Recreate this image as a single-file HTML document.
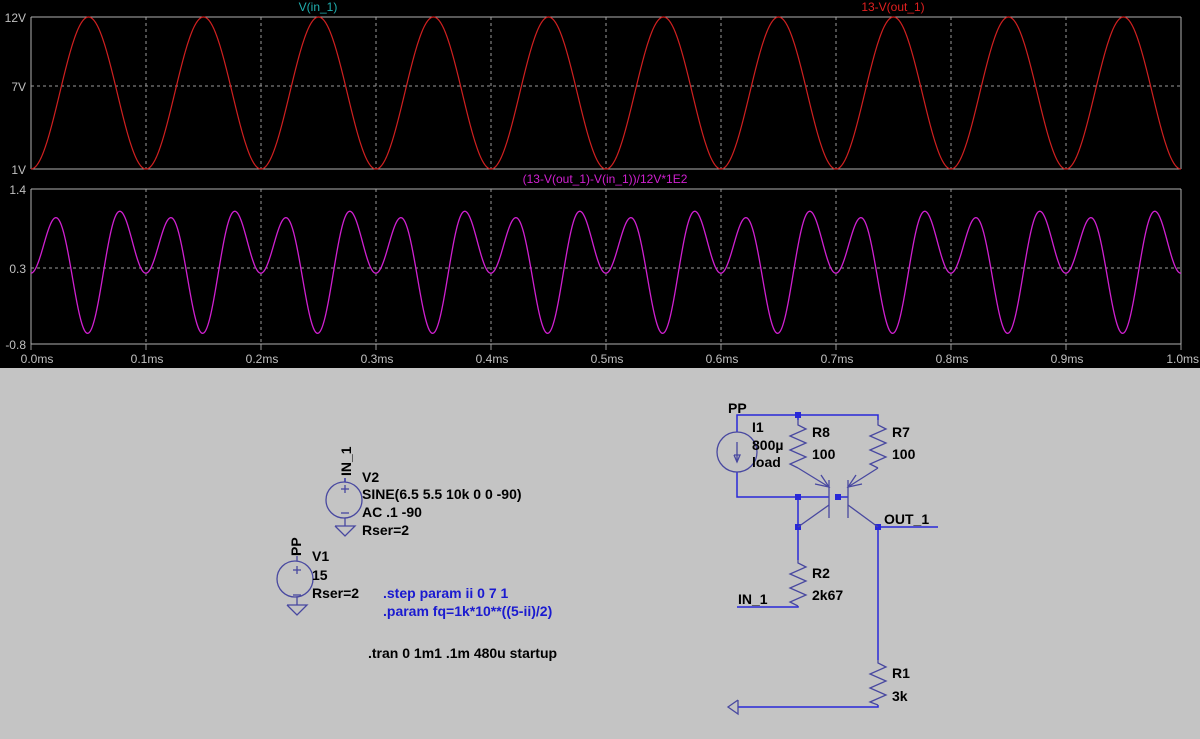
<!DOCTYPE html>
<html><head><meta charset="utf-8"><style>
html,body{margin:0;padding:0;width:1200px;height:739px;overflow:hidden;background:#c4c4c4}
svg{display:block}
.ax{font-family:"Liberation Sans",sans-serif;font-size:12px;fill:#c0c0c0}
.s{font-family:"Liberation Sans",sans-serif;font-size:14px;font-weight:bold;fill:#000}
.b{fill:#1a1ad0}
</style></head><body>
<svg id="sv" width="1200" height="739" viewBox="0 0 1200 739">
<rect x="0" y="0" width="1200" height="368" fill="#000"/>
<g id="grid" stroke="#9a9a9a" stroke-width="1" fill="none"></g>
<line x1="31" y1="17" x2="1181" y2="17" stroke="#b0b0b0"/>
<line x1="31" y1="169" x2="1181" y2="169" stroke="#b0b0b0"/>
<line x1="31" y1="189" x2="1181" y2="189" stroke="#b0b0b0"/>
<line x1="31" y1="344" x2="1181" y2="344" stroke="#b0b0b0"/>
<line x1="31" y1="17" x2="31" y2="169" stroke="#b0b0b0"/>
<line x1="1181" y1="17" x2="1181" y2="169" stroke="#b0b0b0"/>
<line x1="31" y1="189" x2="31" y2="344" stroke="#b0b0b0"/>
<line x1="1181" y1="189" x2="1181" y2="344" stroke="#b0b0b0"/>
<text class="ax" x="26" y="22" text-anchor="end">12V</text>
<text class="ax" x="26" y="91" text-anchor="end">7V</text>
<text class="ax" x="26" y="174" text-anchor="end">1V</text>
<text class="ax" x="26" y="194" text-anchor="end">1.4</text>
<text class="ax" x="26" y="273" text-anchor="end">0.3</text>
<text class="ax" x="26" y="349" text-anchor="end">-0.8</text>
<g id="xl"></g>
<text x="318" y="11" text-anchor="middle" font-family="Liberation Sans,sans-serif" font-size="12" fill="#20b0b0">V(in_1)</text>
<text x="893" y="11" text-anchor="middle" font-family="Liberation Sans,sans-serif" font-size="12" fill="#e02020">13-V(out_1)</text>
<text x="605" y="183" text-anchor="middle" font-family="Liberation Sans,sans-serif" font-size="12" fill="#d020d0">(13-V(out_1)-V(in_1))/12V*1E2</text>
<polyline id="w1" fill="none" stroke="#d02020" stroke-width="1.2"/>
<polyline id="w2" fill="none" stroke="#d020d0" stroke-width="1.3"/>

<g stroke="#2828d8" stroke-width="1.5" fill="none">
<polyline points="737,432 737,415 878,415 878,420"/>
<line x1="798" y1="415" x2="798" y2="420"/>
<polyline points="737,472 737,497 829,497"/>
<line x1="838" y1="497" x2="848" y2="497"/>
<polyline points="798,497 798,560"/>
<polyline points="798,606 798,607 737,607"/>
<polyline points="878,527 938,527"/>
<polyline points="878,527 878,660"/>
<polyline points="878,705 878,707 738,707"/>
<polyline points="345,478 345,482"/>
</g>
<g fill="#2828d8">
<rect x="795" y="412" width="6" height="6"/>
<rect x="795" y="494" width="6" height="6"/>
<rect x="835" y="494" width="6" height="6"/>
<rect x="795" y="524" width="6" height="6"/>
<rect x="875" y="524" width="6" height="6"/>
</g>
<g stroke="#4848a0" stroke-width="1.3" fill="none">
<circle cx="737" cy="452" r="20"/>
<line x1="737" y1="442" x2="737" y2="462"/>
<polyline points="734,455 737,462 740,455 734,455"/>
<polyline points="798,420 798,425 806,429 790,436 806,443 790,450 806,457 790,464 798,468"/>
<polyline points="878,420 878,425 886,429 870,436 886,443 870,450 886,457 870,464 878,468"/>
<polyline points="798,468 829,487"/>
<polyline points="878,468 848,487"/>
<polyline points="815,484 829,487 821,475"/>
<polyline points="862,484 848,487 856,475"/>
<line x1="829" y1="480" x2="829" y2="518"/>
<line x1="848" y1="480" x2="848" y2="518"/>
<line x1="829" y1="505" x2="798" y2="527"/>
<line x1="848" y1="505" x2="878" y2="527"/>
<polyline points="798,560 798,563 806,567 790,574 806,581 790,588 806,595 790,602 798,606"/>
<polyline points="878,660 878,663 886,667 870,674 886,681 870,688 886,695 870,702 878,705"/>
<polyline points="738,700 728,707 738,714 738,700"/>
<circle cx="344" cy="500" r="18"/>
<line x1="345" y1="482" x2="345" y2="478"/>
<line x1="345" y1="518" x2="345" y2="526"/>
<polyline points="335,526 355,526 345,536 335,526"/>
<line x1="341" y1="489" x2="349" y2="489"/><line x1="345" y1="485" x2="345" y2="493"/>
<line x1="341" y1="513" x2="349" y2="513"/>
<circle cx="295" cy="579" r="18"/>
<line x1="297" y1="561" x2="297" y2="556"/>
<line x1="297" y1="597" x2="297" y2="605"/>
<polyline points="287,605 307,605 297,615 287,605"/>
<line x1="293" y1="570" x2="301" y2="570"/><line x1="297" y1="566" x2="297" y2="574"/>
<line x1="293" y1="595" x2="301" y2="595"/>
</g>
<g class="s">
<text x="728" y="413">PP</text>
<text x="752" y="432">I1</text>
<text x="752" y="450">800µ</text>
<text x="752" y="467">load</text>
<text x="812" y="437">R8</text>
<text x="812" y="459">100</text>
<text x="892" y="437">R7</text>
<text x="892" y="459">100</text>
<text x="812" y="578">R2</text>
<text x="812" y="600">2k67</text>
<text x="892" y="678">R1</text>
<text x="892" y="701">3k</text>
<text x="738" y="604">IN_1</text>
<text x="884" y="524">OUT_1</text>
<text x="362" y="482">V2</text>
<text x="362" y="499">SINE(6.5 5.5 10k 0 0 -90)</text>
<text x="362" y="517">AC .1 -90</text>
<text x="362" y="535">Rser=2</text>
<text x="312" y="561">V1</text>
<text x="312" y="580">15</text>
<text x="312" y="598">Rser=2</text>
<text class="s b" x="383" y="598">.step param ii 0 7 1</text>
<text class="s b" x="383" y="616">.param fq=1k*10**((5-ii)/2)</text>
<text x="368" y="658">.tran 0 1m1 .1m 480u startup</text>
<text transform="translate(351,476) rotate(-90)">IN_1</text>
<text transform="translate(301,556) rotate(-90)">PP</text>
</g>
</svg>
<script>
var NS="http://www.w3.org/2000/svg",g=document.getElementById('grid'),xl=document.getElementById('xl');
function L(x1,y1,x2,y2,d){var l=document.createElementNS(NS,'line');l.setAttribute('x1',x1);l.setAttribute('y1',y1);l.setAttribute('x2',x2);l.setAttribute('y2',y2);if(d)l.setAttribute('stroke-dasharray','3,3');g.appendChild(l);}
for(var i=0;i<=10;i++){var x=31+115*i;
 if(i>0&&i<10){L(x,17,x,169,1);L(x,189,x,344,1);}
 L(x,344,x,350,0);
 var t=document.createElementNS(NS,'text');t.setAttribute('class','ax');t.setAttribute('x',i==10?1199:(i==0?37:x+1));t.setAttribute('y',363);t.setAttribute('text-anchor',i==10?'end':'middle');t.textContent=(i/10).toFixed(1)+'ms';xl.appendChild(t);}
L(31,86,1181,86,1);L(31,268,1181,268,1);
var p1=[],p2=[];
for(var x=31;x<=1181;x+=0.5){var th=2*Math.PI*(x-31)/115;
 var v=6.5-5.5*Math.cos(th);p1.push(x+','+(169-(v-1)/11*152).toFixed(2));
 var f=0.39+0.425*Math.cos(th)-0.61*Math.cos(2*th)-0.06*Math.sin(th)+0.04*Math.sin(2*th);
 p2.push(x+','+(189+(1.4-f)/2.2*155).toFixed(2));}
document.getElementById('w1').setAttribute('points',p1.join(' '));
document.getElementById('w2').setAttribute('points',p2.join(' '));
</script>
</body></html>
